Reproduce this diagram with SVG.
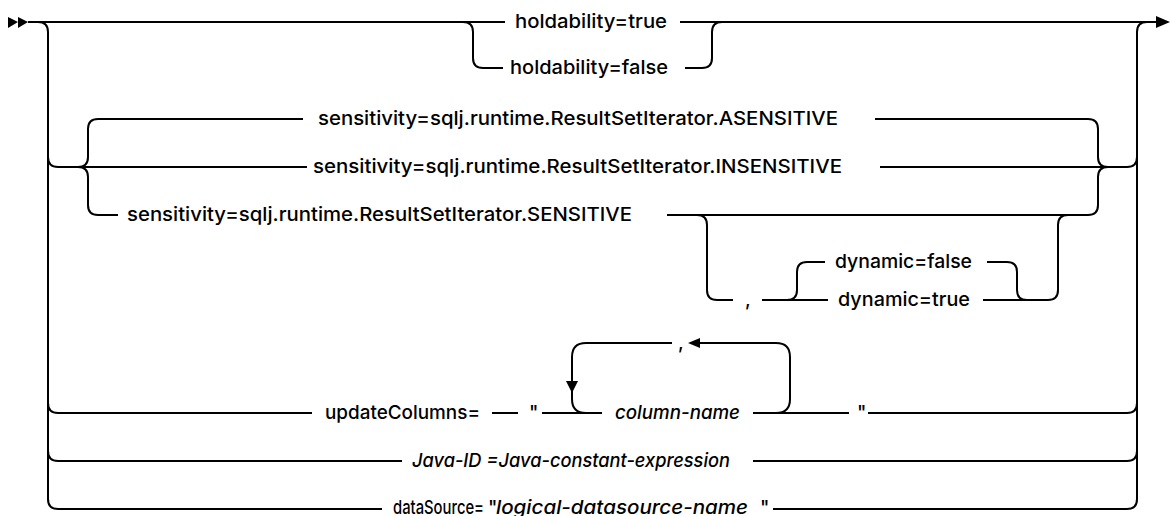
<svg xmlns="http://www.w3.org/2000/svg" width="1170" height="516" viewBox="0 0 1170 516">
<style>
.ln{fill:none;stroke:#000;stroke-width:2}
.ah{fill:#000;stroke:none}
text{font-family:Inter,"Liberation Sans",sans-serif;font-size:19px;font-weight:500;fill:#000}
.it{font-style:italic}
</style>
<rect width="1170" height="516" fill="#fff"/>
<g id="connectors">
<polygon class="ah" points="8,17 18,22 8,28"/>
<polygon class="ah" points="18,17 28,22 18,28"/>
<path class="ln" d="M28,22 H505 M680,22 H1158"/>
<polygon class="ah" points="1156,16 1170,22 1156,28"/>
<path class="ln" d="M38,22 Q48,22 48,32 V499 Q48,509 58,509 H382"/>
<path class="ln" d="M48,157 Q48,167 58,167 H307"/>
<path class="ln" d="M48,403 Q48,413 58,413 H312"/>
<path class="ln" d="M48,451 Q48,461 58,461 H402"/>
<path class="ln" d="M1127,509 Q1137,509 1137,499 V32 Q1137,22 1147,22"/>
<path class="ln" d="M1127,413 Q1137,413 1137,403 M1127,461 Q1137,461 1137,451 M1127,167 Q1137,167 1137,157"/>
<path class="ln" d="M880,167 H1127 M868,413 H1127 M753,461 H1127 M773,509 H1127"/>
<path class="ln" d="M463,22 Q473,22 473,32 V58 Q473,68 483,68 H503"/>
<path class="ln" d="M685,68 H702 Q712,68 712,58 V32 Q712,22 722,22"/>
<path class="ln" d="M78,167 Q88,167 88,157 V129 Q88,119 98,119 H303"/>
<path class="ln" d="M78,167 Q88,167 88,177 V205 Q88,215 98,215 H118"/>
<path class="ln" d="M875,119 H1088 Q1098,119 1098,129 V157 Q1098,167 1108,167"/>
<path class="ln" d="M667,215 H1088 Q1098,215 1098,205 V177 Q1098,167 1108,167"/>
<path class="ln" d="M697,215 Q707,215 707,225 V290 Q707,300 717,300 H733"/>
<path class="ln" d="M762,300 H828"/>
<path class="ln" d="M787,300 Q797,300 797,290 V272 Q797,262 807,262 H825"/>
<path class="ln" d="M987,262 H1007 Q1017,262 1017,272 V290 Q1017,300 1027,300"/>
<path class="ln" d="M983,300 H1048 Q1058,300 1058,290 V225 Q1058,215 1068,215"/>
<path class="ln" d="M492,413 H518 M542,413 H602 M753,413 H849"/>
<path class="ln" d="M776,413 Q790,413 790,399 V357 Q790,343 776,343 H700"/>
<polygon class="ah" points="688,343 700,338 700,348"/>
<path class="ln" d="M672,343 H586 Q572,343 572,357 V399 Q572,413 586,413"/>
<polygon class="ah" points="566,381 578,381 572,393"/>
</g>
<g id="hold-true"><text x="515" y="28" textLength="152" lengthAdjust="spacingAndGlyphs">holdability=true</text></g>
<g id="hold-false"><text x="510" y="74" textLength="158" lengthAdjust="spacingAndGlyphs">holdability=false</text></g>
<g id="sens-a"><text x="318" y="125" textLength="520" lengthAdjust="spacingAndGlyphs">sensitivity=sqlj.runtime.ResultSetIterator.ASENSITIVE</text></g>
<g id="sens-i"><text x="313" y="173" textLength="529" lengthAdjust="spacingAndGlyphs">sensitivity=sqlj.runtime.ResultSetIterator.INSENSITIVE</text></g>
<g id="sens-s"><text x="127" y="221" textLength="505" lengthAdjust="spacingAndGlyphs">sensitivity=sqlj.runtime.ResultSetIterator.SENSITIVE</text></g>
<g id="dyn-comma"><text x="745" y="306">,</text></g>
<g id="dyn-false"><text x="835" y="268" textLength="137" lengthAdjust="spacingAndGlyphs">dynamic=false</text></g>
<g id="dyn-true"><text x="838" y="306" textLength="132" lengthAdjust="spacingAndGlyphs">dynamic=true</text></g>
<g id="upd"><text x="325" y="419" textLength="155" lengthAdjust="spacingAndGlyphs">updateColumns=</text></g>
<g id="upd-q1"><text x="529" y="419">"</text></g>
<g id="col-name"><text class="it" x="615" y="419" textLength="125" lengthAdjust="spacingAndGlyphs">column-name</text></g>
<g id="col-comma"><text x="678" y="349">,</text></g>
<g id="upd-q2"><text x="857" y="419">"</text></g>
<g id="java-id"><text class="it" x="412" y="467" textLength="318" lengthAdjust="spacingAndGlyphs">Java-ID =Java-constant-expression</text></g>
<g id="ds"><text x="393" y="514" textLength="91" lengthAdjust="spacingAndGlyphs">dataSource=</text><text x="488" y="514">"</text><text class="it" x="496" y="514" textLength="252" lengthAdjust="spacingAndGlyphs">logical-datasource-name</text><text x="760" y="514">"</text></g>
</svg>
